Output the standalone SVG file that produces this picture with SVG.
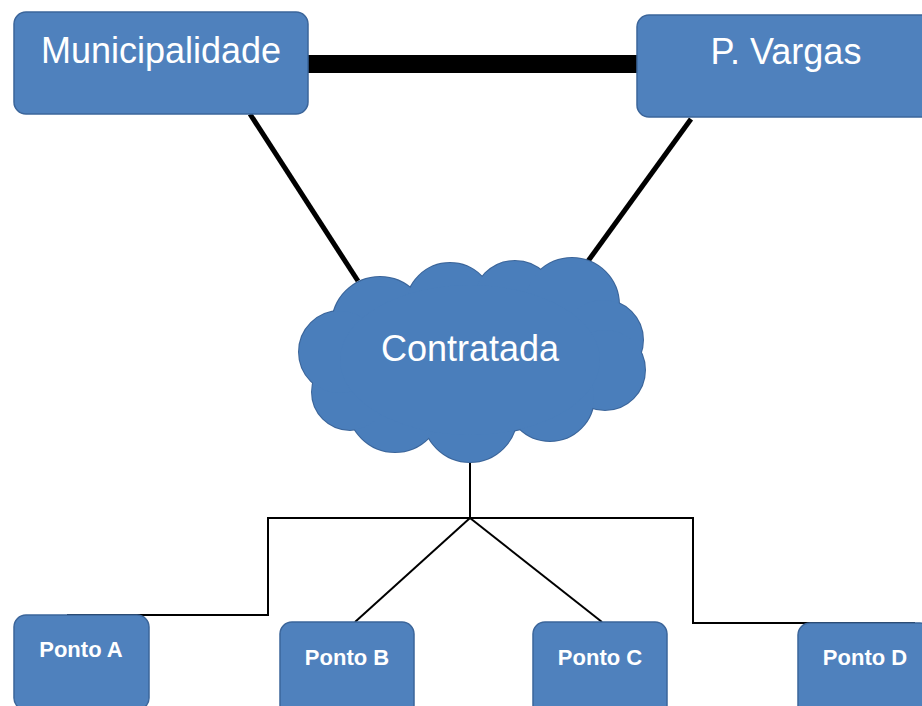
<svg xmlns="http://www.w3.org/2000/svg" width="922" height="706" viewBox="0 0 922 706">
<defs>
<style>
.box{fill:#4f81bd;stroke:#3b659a;stroke-width:1.5}
.lbl{font-family:"Liberation Sans",Arial,sans-serif;fill:#ffffff;text-anchor:middle}
.big{font-size:36px}
.small{font-size:22px;font-weight:bold}
.thin{fill:none;stroke:#000;stroke-width:2}
.cl-s{fill:#4a7ebb;stroke:#3b659a;stroke-width:2}
.cl-f{fill:#4a7ebb;stroke:none}
</style>
</defs>
<rect width="922" height="706" fill="#ffffff"/>
<g id="connectors">
<line x1="300" y1="64" x2="645" y2="64" stroke="#000" stroke-width="18"/>
<line x1="250" y1="114" x2="358" y2="281" stroke="#000" stroke-width="5"/>
<line x1="691" y1="119" x2="583" y2="268" stroke="#000" stroke-width="5"/>
<polyline class="thin" points="470,462 470,518"/>
<polyline class="thin" points="67,615 268,615 268,518 693,518 693,623 915,623"/>
<line class="thin" x1="470" y1="518" x2="355" y2="622"/>
<line class="thin" x1="470" y1="518" x2="602" y2="622"/>
</g>
<g id="municipalidade">
<rect class="box" x="14" y="12" width="294" height="102" rx="12"/>
<text class="lbl big" x="161" y="63">Municipalidade</text>
</g>
<g id="pvargas">
<rect class="box" x="637" y="15" width="300" height="102" rx="12"/>
<text class="lbl big" x="786" y="64">P. Vargas</text>
</g>
<g id="contratada">
<g>
<circle class="cl-s" cx="380" cy="325" r="48"/>
<circle class="cl-s" cx="450" cy="307" r="44"/>
<circle class="cl-s" cx="515" cy="303" r="42"/>
<circle class="cl-s" cx="572" cy="305" r="47"/>
<circle class="cl-s" cx="603" cy="340" r="40"/>
<circle class="cl-s" cx="605" cy="370" r="40"/>
<circle class="cl-s" cx="550" cy="397" r="44"/>
<circle class="cl-s" cx="470" cy="415" r="47"/>
<circle class="cl-s" cx="395" cy="405" r="47"/>
<circle class="cl-s" cx="350" cy="392" r="38"/>
<circle class="cl-s" cx="340" cy="352" r="41"/>
<ellipse class="cl-s" cx="470" cy="360" rx="130" ry="75"/>
</g>
<g>
<circle class="cl-f" cx="380" cy="325" r="48"/>
<circle class="cl-f" cx="450" cy="307" r="44"/>
<circle class="cl-f" cx="515" cy="303" r="42"/>
<circle class="cl-f" cx="572" cy="305" r="47"/>
<circle class="cl-f" cx="603" cy="340" r="40"/>
<circle class="cl-f" cx="605" cy="370" r="40"/>
<circle class="cl-f" cx="550" cy="397" r="44"/>
<circle class="cl-f" cx="470" cy="415" r="47"/>
<circle class="cl-f" cx="395" cy="405" r="47"/>
<circle class="cl-f" cx="350" cy="392" r="38"/>
<circle class="cl-f" cx="340" cy="352" r="41"/>
<ellipse class="cl-f" cx="470" cy="360" rx="130" ry="75"/>
</g>
<text class="lbl big" x="470" y="361">Contratada</text>
</g>
<g id="pontoA">
<rect class="box" x="14" y="615" width="135" height="95" rx="12"/>
<text class="lbl small" x="81" y="657">Ponto A</text>
</g>
<g id="pontoB">
<rect class="box" x="280" y="622" width="134" height="95" rx="12"/>
<text class="lbl small" x="347" y="665">Ponto B</text>
</g>
<g id="pontoC">
<rect class="box" x="533" y="622" width="134" height="95" rx="12"/>
<text class="lbl small" x="600" y="665">Ponto C</text>
</g>
<g id="pontoD">
<rect class="box" x="798" y="623" width="134" height="95" rx="12"/>
<text class="lbl small" x="865" y="665">Ponto D</text>
</g>
</svg>
